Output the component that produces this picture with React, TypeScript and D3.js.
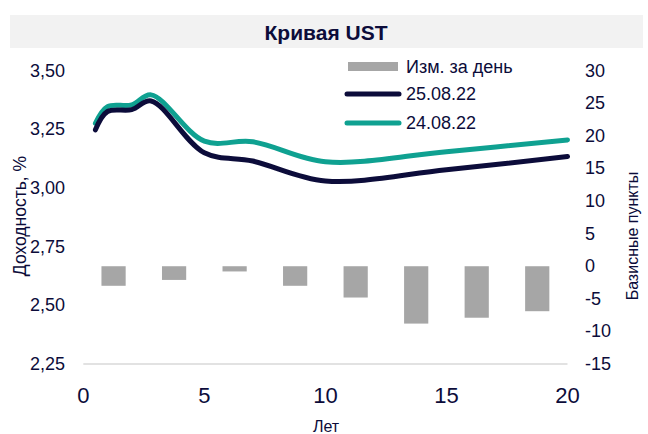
import React from "react";
import * as d3 from "d3";

const maturities = [0.5, 1, 2, 2.8, 5, 7, 10, 15, 20];
const yield250822 = [3.248, 3.326, 3.334, 3.371, 3.15, 3.115, 3.03, 3.078, 3.134];
const yield240822 = [3.276, 3.347, 3.354, 3.397, 3.2, 3.197, 3.112, 3.155, 3.205];
const barCategories = ["b1", "b2", "b3", "b4", "b5", "b6", "b7", "b8"];
const barChange = [-3, -2.1, -0.8, -3, -4.8, -8.8, -7.9, -6.9];
const leftTicks = [2.25, 2.5, 2.75, 3.0, 3.25, 3.5];
const rightTicks = [-15, -10, -5, 0, 5, 10, 15, 20, 25, 30];
const xTicks = [0, 5, 10, 15, 20];

const W = 648, H = 434;
const NAVY = "#0c0c3a";
const TEAL = "#0fa191";
const GRAY = "#a6a6a6";
const FONT = "'Liberation Sans', Arial, sans-serif";

export default function App() {
  const x0 = 83.3, x1 = 567.5, yTop = 70.7, yBot = 364;
  const x = d3.scaleLinear().domain([0, 20]).range([x0, x1]);
  const yL = d3.scaleLinear().domain([2.25, 3.5]).range([yBot, yTop]);
  const yR = d3.scaleLinear().domain([-15, 30]).range([yBot, yTop]);
  const band = d3.scaleBand().domain(barCategories).range([x0, x1]).paddingInner(0.6).paddingOuter(0.3);

  const line = d3
    .line<number>()
    .x((_, i) => x(maturities[i]))
    .y((d) => yL(d))
    .curve(d3.curveCatmullRom.alpha(0.5));

  const fmt = (v: number) => v.toFixed(2).replace(".", ",");

  return (
    <svg width={W} height={H} style={{ position: "absolute", left: 0, top: 0 }} fontFamily={FONT}>
      <rect x={0} y={0} width={W} height={H} fill="#fff" />
      <rect x={10} y={15} width={633} height={33} fill="#f2f2f2" />
      <text x={326} y={32} textAnchor="middle" dominantBaseline="central" fontSize={21} fontWeight="bold" fill={NAVY}>
        Кривая UST
      </text>

      {/* bars */}
      {barChange.map((v, i) => (
        <rect
          key={i}
          x={band(barCategories[i])}
          width={band.bandwidth()}
          y={yR(Math.max(0, v))}
          height={Math.abs(yR(v) - yR(0))}
          fill={GRAY}
        />
      ))}

      {/* baseline */}
      <line x1={x0} x2={x1} y1={yBot} y2={yBot} stroke="#d9d9d9" strokeWidth={1.5} />

      {/* lines */}
      <path d={line(yield240822) || ""} fill="none" stroke={TEAL} strokeWidth={5} strokeLinecap="round" strokeLinejoin="round" />
      <path d={line(yield250822) || ""} fill="none" stroke={NAVY} strokeWidth={5} strokeLinecap="round" strokeLinejoin="round" />

      {/* left ticks */}
      {leftTicks.map((t) => (
        <text key={t} x={65} y={yL(t)} textAnchor="end" dominantBaseline="central" fontSize={18} fill={NAVY}>
          {fmt(t)}
        </text>
      ))}
      {/* right ticks */}
      {rightTicks.map((t) => (
        <text key={t} x={585} y={yR(t)} textAnchor="start" dominantBaseline="central" fontSize={18} fill={NAVY}>
          {t}
        </text>
      ))}
      {/* x ticks */}
      {xTicks.map((t) => (
        <text key={t} x={x(t)} y={395} textAnchor="middle" dominantBaseline="central" fontSize={22} fill={NAVY}>
          {t}
        </text>
      ))}
      <text x={326} y={426} textAnchor="middle" dominantBaseline="central" fontSize={16} fill={NAVY}>
        Лет
      </text>

      <text transform={`translate(20,216) rotate(-90)`} textAnchor="middle" dominantBaseline="central" fontSize={17.5} fill={NAVY}>
        Доходность, %
      </text>
      <text transform={`translate(632,236) rotate(-90)`} textAnchor="middle" dominantBaseline="central" fontSize={16} fill={NAVY}>
        Базисные пункты
      </text>

      {/* legend */}
      <rect x={348} y={62} width={50} height={9} fill={GRAY} />
      <text x={406} y={67} dominantBaseline="central" fontSize={18} fill={NAVY}>Изм. за день</text>
      <line x1={347} x2={399} y1={94} y2={94} stroke={NAVY} strokeWidth={5} strokeLinecap="round" />
      <text x={406} y={94} dominantBaseline="central" fontSize={18} fill={NAVY}>25.08.22</text>
      <line x1={347} x2={399} y1={123} y2={123} stroke={TEAL} strokeWidth={5} strokeLinecap="round" />
      <text x={406} y={123} dominantBaseline="central" fontSize={18} fill={NAVY}>24.08.22</text>
    </svg>
  );
}
